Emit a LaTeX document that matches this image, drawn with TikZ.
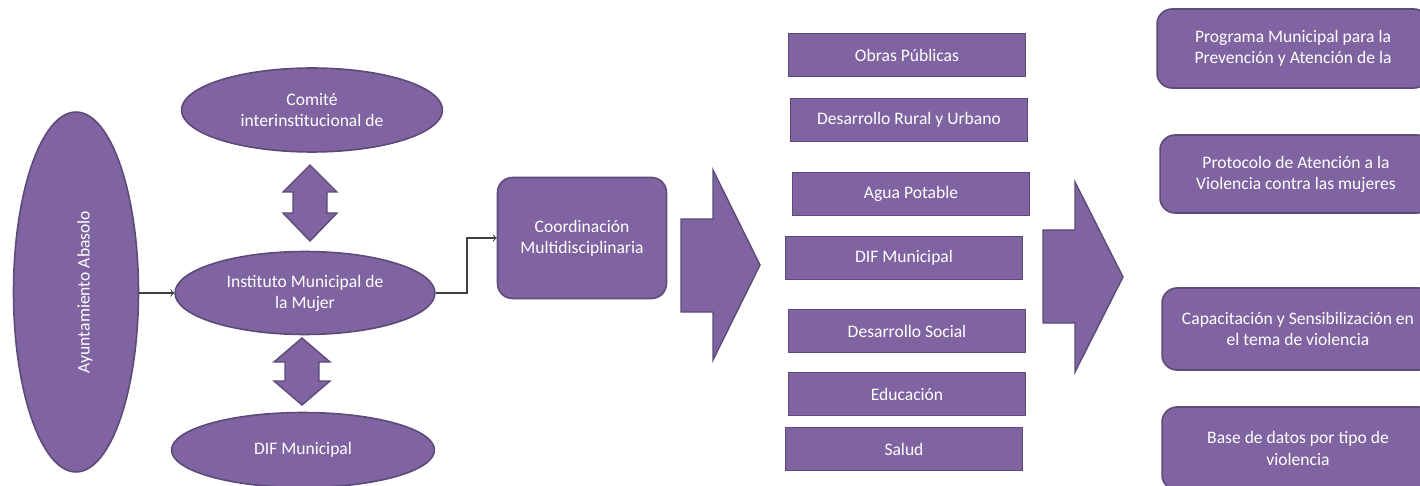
\documentclass[tikz,border=0pt]{standalone}
\usepackage{fontspec}
\setmainfont{Carlito}
\usepackage{tikz}
\usetikzlibrary{positioning,shapes.geometric}
\definecolor{violeta}{HTML}{8064A2}
\definecolor{violeta_borde}{HTML}{5C4A78}

\begin{document}
\begin{tikzpicture}[x=0.02cm,y=-0.02cm,
    elipse/.style={ellipse,draw=violeta_borde,fill=violeta,line width=0.9pt,text=white,align=center,inner sep=0pt},
    caja/.style={rectangle,draw=violeta_borde,fill=violeta,line width=1.1pt,text=white,align=center,minimum width=4.74cm,minimum height=0.86cm},
    cajaredonda/.style={rectangle,rounded corners=0.3cm,draw=violeta_borde,fill=violeta,line width=0.9pt,text=white,align=center,minimum width=5.44cm},
    flecha/.style={draw=violeta_borde,fill=violeta,line width=0.8pt,line join=miter},
    conector/.style={->,>=to,draw=black!75,line width=0.6pt},
    font=\fontsize{10}{12}\selectfont]
    \clip (0,0) rectangle (1420,486);
    \useasboundingbox (0,0) rectangle (1420,486);
    % columna izquierda
    \node[elipse,minimum width=2.5cm,minimum height=7.2cm] (ayun) at (76,292) {};
    \node[rotate=90,text=white,right=0.18cm of ayun.center,anchor=center] (ayuntxt) {Ayuntamiento Abasolo};
    \node[elipse,minimum width=5.22cm,minimum height=1.68cm] (comite) at (312,110) {Comité\\interinstitucional de};
    \node[elipse,minimum width=5.2cm,minimum height=1.66cm] (inst) at (305,293) {Instituto Municipal de\\la Mujer};
    \node[elipse,minimum width=5.26cm,minimum height=1.5cm] (dif) at (303,450) {DIF Municipal};
    % flechas dobles
    \draw[flecha] (310,165) -- (337,192) -- (327,192) -- (327,213) -- (337,213) -- (310,241)
        -- (283,213) -- (293,213) -- (293,192) -- (283,192) -- cycle;
    \draw[flecha] (302,338) -- (330,362) -- (319,362) -- (319,381) -- (330,381) -- (302,405)
        -- (274,381) -- (285,381) -- (285,362) -- (274,362) -- cycle;
    % coordinacion
    \node[cajaredonda,minimum width=3.38cm,minimum height=2.42cm] (coord) at (582,238) {Coordinación\\Multidisciplinaria};
    \coordinate (quiebre) at (467,293);
    \draw[conector] (ayun.east |- inst.west) -- (inst.west);
    \draw[conector] (inst.east) -- (quiebre) |- (coord.west);
    % flecha grande 1
    \draw[flecha] (681,219) -- (713,219) -- (713,170) -- (760,265) -- (713,360) -- (713,312) -- (681,312) -- cycle;
    % areas
    \node[caja] (obras) at (907,55) {Obras Públicas};
    \node[caja] (rural) at (909,120) {Desarrollo  Rural y Urbano};
    \node[caja] (agua) at (911,194) {Agua Potable};
    \node[caja] (difm) at (904,258) {DIF Municipal};
    \node[caja] (social) at (907,331) {Desarrollo Social};
    \node[caja] (educ) at (907,394) {Educación};
    \node[caja] (salud) at (904,449) {Salud};
    % flecha grande 2
    \draw[flecha] (1043,230) -- (1075,230) -- (1075,182) -- (1123,277) -- (1075,372) -- (1075,323) -- (1043,323) -- cycle;
    % programas
    \node[cajaredonda,minimum height=1.58cm] (prog) at (1293,48.5) {Programa Municipal para la\\Prevención y Atención de la};
    \node[cajaredonda,minimum height=1.56cm] (prot) at (1296,174) {Protocolo de Atención a la\\Violencia contra las mujeres};
    \node[cajaredonda,minimum height=1.64cm] (capa) at (1298,329) {Capacitación y Sensibilización  en\\el tema de violencia};
    \node[cajaredonda,minimum height=1.66cm] (base) at (1298,448.5) {Base de datos por tipo de\\violencia};
\end{tikzpicture}
\end{document}
